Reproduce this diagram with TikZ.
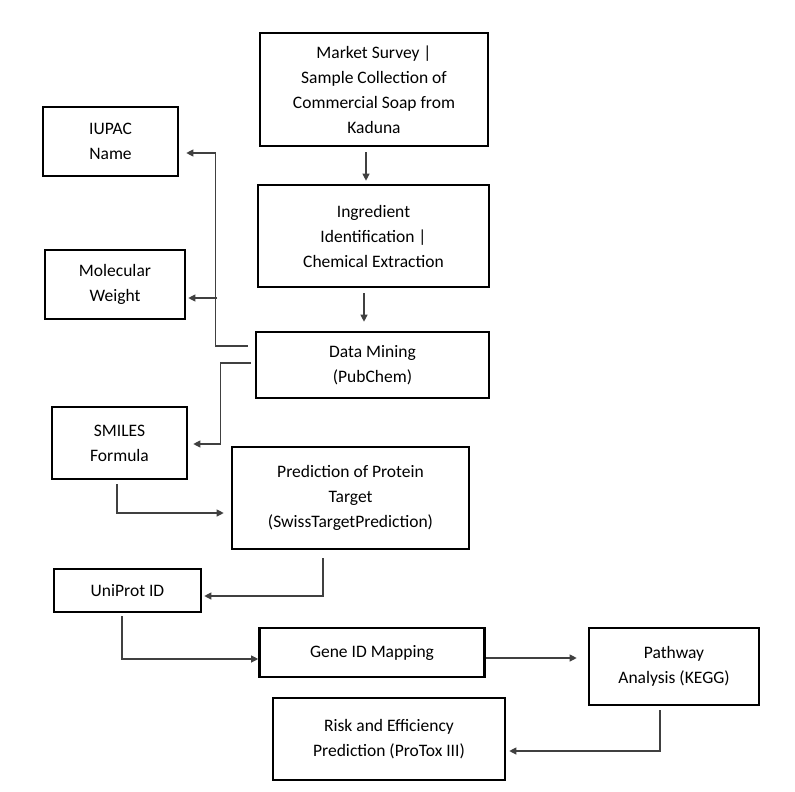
\documentclass[tikz,border=0pt]{standalone}
\usepackage{fontspec}
\setmainfont{Carlito}
\usetikzlibrary{arrows.meta}
\usetikzlibrary{positioning}

\begin{document}
\begin{tikzpicture}[
    x=1pt, y=-1pt,
    >={Triangle[width=7pt, length=7pt]},
    font=\fontsize{17.5}{25}\selectfont,
    stage/.style = {
        rectangle,
        draw=black,
        line width=2.6pt,
        align=center,
        inner sep=2pt,
      },
    link/.style = {
        ->,
        draw=black!75,
        line width=1.1pt,
      },
    ]
    \useasboundingbox (0,0) rectangle (795,792);

    \node (market) [stage, minimum width=228pt, minimum height=113pt] at (374,89.5) {Market Survey |\\Sample Collection of\\Commercial Soap from\\Kaduna};
    \node (ingredient) [stage, minimum width=231pt, minimum height=102pt] at (373.5,236) {Ingredient\\Identification |\\Chemical Extraction};
    \node (mining) [stage, minimum width=233pt, minimum height=66pt] at (372.5,365) {Data Mining\\(PubChem)};
    \node (iupac) [stage, minimum width=135pt, minimum height=69pt] at (110.5,141.5) {IUPAC\\Name};
    \node (weight) [stage, minimum width=140pt, minimum height=69pt] at (115,284.5) {Molecular\\Weight};
    \node (smiles) [stage, minimum width=135pt, minimum height=72pt] at (119.5,443) {SMILES\\Formula};
    \node (target) [stage, minimum width=237pt, minimum height=102pt] at (350.5,498) {Prediction of Protein\\Target\\(SwissTargetPrediction)};
    \node (uniprot) [stage, minimum width=147pt, minimum height=43pt] at (127.5,590.5) {UniProt ID};
    \node (gene) [stage, minimum width=225pt, minimum height=49pt] at (372,652.5) {Gene ID Mapping};
    \node (pathway) [stage, minimum width=170pt, minimum height=77pt] at (674,666.5) {Pathway\\Analysis (KEGG)};
    \node (risk) [stage, minimum width=232pt, minimum height=82pt] at (389,739) {Risk and Efficiency\\Prediction (ProTox III)};
    \coordinate (split) at (217,298);

    \draw [link, shorten <=5pt, shorten >=3pt] ([xshift=-8pt]market.south) -- ([xshift=-7.5pt]ingredient.north);
    \draw [link, shorten <=5pt, shorten >=9pt] ([xshift=-9.5pt]ingredient.south) -- ([xshift=-8.5pt]mining.north);
    \draw [link, shorten <=7pt, shorten >=7pt] ([yshift=19pt]mining.west) -- ++(-39,0) |- ([yshift=-11.5pt]iupac.east);
    \draw [link, shorten >=2pt] (split) -- (split -| weight.east);
    \draw [link, shorten <=4pt, shorten >=5pt] ([yshift=2pt]mining.west) -- ++(-34,0) |- ([yshift=-1pt]smiles.east);
    \draw [link, shorten <=4pt, shorten >=7pt] ([xshift=-2.5pt]smiles.south) |- ([yshift=-15pt]target.west);
    \draw [link, shorten <=8pt, shorten >=2pt] ([xshift=-27.5pt]target.south) |- ([yshift=-5.5pt]uniprot.east);
    \draw [link, shorten <=3pt] ([xshift=-5.5pt]uniprot.south) |- ([yshift=-6.5pt]gene.west);
    \draw [link, shorten >=11pt] ([yshift=-5.5pt]gene.east) -- ([yshift=8.5pt]pathway.west);
    \draw [link, shorten <=4pt, shorten >=3pt] ([xshift=-14pt]pathway.south) |- ([yshift=-12pt]risk.east);
  \end{tikzpicture}
\end{document}
